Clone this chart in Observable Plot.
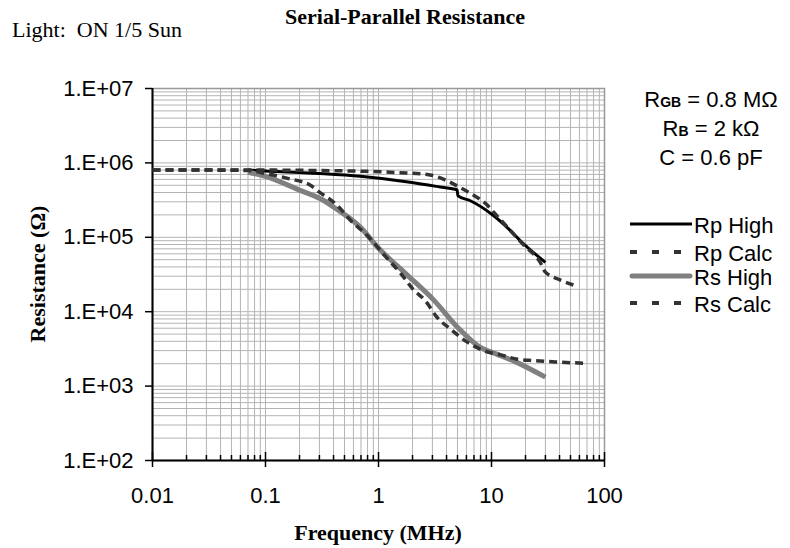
<!DOCTYPE html>
<html><head><meta charset="utf-8">
<script src="https://cdn.jsdelivr.net/npm/d3@7"></script>
<script src="https://cdn.jsdelivr.net/npm/@observablehq/plot@0.6"></script>
<style>
body{margin:0;background:#fff}
#chart{position:relative;width:790px;height:548px}
</style>
</head><body><div id="chart"></div>
<script>
// ---- data (frequency in MHz, resistance in ohm) ----
const fRpHigh = [0.07, 0.1, 0.3, 0.69, 1.9, 3.5, 4.95, 5.05, 6.5, 10.4, 14.7, 18, 30];
const rpHigh  = [8.0e5, 7.8e5, 7.2e5, 6.6e5, 5.5e5, 4.75e5, 4.35e5, 3.6e5, 3.1e5, 1.96e5, 1.23e5, 9.0e4, 4.6e4];

const fRpCalc = [0.01, 0.03, 0.1, 0.3, 0.8, 1.5, 2.7, 4.1, 5.1, 6.5, 9.2, 10.4, 19.4, 27, 30, 40, 57];
const rpCalc  = [8.0e5, 8.0e5, 8.0e5, 7.9e5, 7.7e5, 7.4e5, 7.0e5, 5.7e5, 4.8e5, 3.9e5, 2.7e5, 2.2e5, 7.8e4, 4.6e4, 3.4e4, 2.7e4, 2.2e4];

const fRsHigh = [0.07, 0.1, 0.2, 0.33, 0.4, 0.69, 0.98, 1.8, 3.1, 5, 8, 10, 16, 30];
const rsHigh  = [7.5e5, 6.6e5, 4.3e5, 3.1e5, 2.55e5, 1.37e5, 7.4e4, 3.1e4, 1.42e4, 6.2e3, 3.3e3, 2.86e3, 2.15e3, 1.32e3];

const fRsCalc = [0.01, 0.03, 0.07, 0.1, 0.157, 0.25, 0.3, 0.43, 0.57, 0.8, 1.1, 1.57, 2.03, 2.6, 3.3, 4.3, 6.1, 8.5, 12, 17, 23.5, 40, 66];
const rsCalc  = [8.0e5, 8.0e5, 7.9e5, 7.2e5, 6.2e5, 5.0e5, 4.05e5, 2.7e5, 1.67e5, 1.05e5, 6.0e4, 3.27e4, 2.0e4, 1.4e4, 8.4e3, 5.9e3, 3.9e3, 3.0e3, 2.63e3, 2.3e3, 2.2e3, 2.1e3, 2.03e3];

const seriesNames = ["Rp High", "Rp Calc", "Rs High", "Rs Calc"];

const xMajor = [0.01, 0.1, 1, 10, 100];
const xTickLabels = ["0.01", "0.1", "1", "10", "100"];
const yMajor = [1e2, 1e3, 1e4, 1e5, 1e6, 1e7];
const yTickLabels = ["1.E+02", "1.E+03", "1.E+04", "1.E+05", "1.E+06", "1.E+07"];
const minorSteps = [2, 3, 4, 5, 6, 7, 8, 9];

const titleText = "Serial-Parallel Resistance";
const lightText = "Light:  ON 1/5 Sun";
const xLabel = "Frequency (MHz)";
const yLabel = "Resistance (\u03A9)";

// ---- derived ----
const xMinor = xMajor.slice(0, -1).flatMap(d => minorSteps.map(k => +(k * d).toPrecision(6)));
const yMinor = yMajor.slice(0, -1).flatMap(d => minorSteps.map(k => k * d));
const toRows = (f, r) => f.map((v, i) => ({f: v, r: r[i]}));

const styles = [
  {stroke: "#000000", strokeWidth: 3},
  {stroke: "#333333", strokeWidth: 3.5, strokeDasharray: "8,5"},
  {stroke: "#808080", strokeWidth: 5},
  {stroke: "#333333", strokeWidth: 3.5, strokeDasharray: "8,5"}
];
const allData = [toRows(fRpHigh, rpHigh), toRows(fRpCalc, rpCalc), toRows(fRsHigh, rsHigh), toRows(fRsCalc, rsCalc)];

const chart = Plot.plot({
  width: 790, height: 548,
  marginTop: 88, marginBottom: 88, marginLeft: 152, marginRight: 186,
  style: {fontFamily: "'Liberation Sans', Arial, sans-serif", fontSize: "22px", background: "#fff", color: "#000", overflow: "visible"},
  x: {type: "log", domain: [0.01, 100]},
  y: {type: "log", domain: [100, 1e7]},
  marks: [
    Plot.gridX(xMinor.concat(xMajor), {stroke: "#b4b4b4", strokeOpacity: 1, strokeWidth: 1}),
    Plot.gridY(yMinor.concat(yMajor), {stroke: "#b4b4b4", strokeOpacity: 1, strokeWidth: 1}),
    Plot.frame({stroke: "#999", strokeWidth: 1.5}),
    Plot.tickX(xMinor, {x: d => d, insetTop: 367, stroke: "#000", strokeWidth: 1.5}),
    Plot.tickX(xMajor, {x: d => d, insetTop: 364, stroke: "#000", strokeWidth: 1.5}),
    Plot.axisX(xMajor, {tickSize: 7, tickPadding: 20, tickFormat: d => xTickLabels[xMajor.indexOf(d)], label: null, strokeWidth: 1.5}),
    Plot.axisY(yMajor, {tickSize: 7, tickPadding: 12, tickFormat: d => yTickLabels[yMajor.indexOf(d)], label: null, strokeWidth: 1.5}),
    Plot.ruleX([0.01], {stroke: "#000", strokeWidth: 2}),
    Plot.ruleY([100], {stroke: "#000", strokeWidth: 2}),
    ...allData.map((rows, i) => Plot.line(rows, {x: "f", y: "r", curve: "monotone-x", strokeLinecap: "butt", ...styles[i]}))
  ]
});
document.getElementById("chart").appendChild(chart);

// ---- titles, annotations, legend ----
const svg = d3.select(chart);
const serif = "'Liberation Serif', 'Times New Roman', serif";
const sans = "'Liberation Sans', Arial, sans-serif";

svg.append("text").attr("x", 285).attr("y", 24).attr("text-anchor", "start").attr("font-family", serif).attr("font-weight", "bold")
  .attr("font-size", 22).attr("fill", "#000").text(titleText);
svg.append("text").attr("x", 12).attr("y", 37).attr("text-anchor", "start").attr("font-family", serif).attr("font-size", 22)
  .style("white-space", "pre").attr("fill", "#000").text(lightText);
svg.append("text").attr("transform", "translate(45,274) rotate(-90)").attr("text-anchor", "middle")
  .attr("font-family", serif).attr("font-weight", "bold").attr("font-size", 22).attr("fill", "#000").text(yLabel);
svg.append("text").attr("x", 378).attr("y", 540).attr("text-anchor", "middle")
  .attr("font-family", serif).attr("font-weight", "bold").attr("font-size", 22).attr("fill", "#000").text(xLabel);

const ann = [
  {main: "R", sub: "GB", rest: " = 0.8 M\u03A9", y: 107},
  {main: "R", sub: "B", rest: " = 2 k\u03A9", y: 136},
  {main: "C = 0.6 pF", sub: "", rest: "", y: 165}
];
ann.forEach(a => {
  const t = svg.append("text").attr("x", 711).attr("y", a.y).attr("text-anchor", "middle")
    .attr("font-family", sans).attr("font-size", 22).attr("fill", "#000");
  t.append("tspan").text(a.main);
  if (a.sub) t.append("tspan").attr("font-size", 14).attr("font-weight", "bold").text(a.sub);
  if (a.rest) t.append("tspan").text(a.rest);
});

const legendY = [224, 252, 276, 303];
const legendStyles = [
  {stroke: "#000", w: 3, dash: null},
  {stroke: "#333", w: 4, dash: "7,15"},
  {stroke: "#808080", w: 5, dash: null},
  {stroke: "#333", w: 4, dash: "7,15"}
];
seriesNames.forEach((name, i) => {
  const ls = legendStyles[i];
  const l = svg.append("line").attr("x1", 630).attr("x2", 692).attr("y1", legendY[i]).attr("y2", legendY[i])
    .attr("stroke", ls.stroke).attr("stroke-width", ls.w);
  if (ls.dash) l.attr("stroke-dasharray", ls.dash);
  if (i === 2) l.attr("stroke-linecap", "round").attr("x1", 632).attr("x2", 690);
  svg.append("text").attr("x", 694).attr("y", legendY[i] + 9).attr("text-anchor", "start").attr("font-family", sans).attr("font-size", 22)
    .attr("fill", "#000").text(name);
});
</script>
</body></html>
